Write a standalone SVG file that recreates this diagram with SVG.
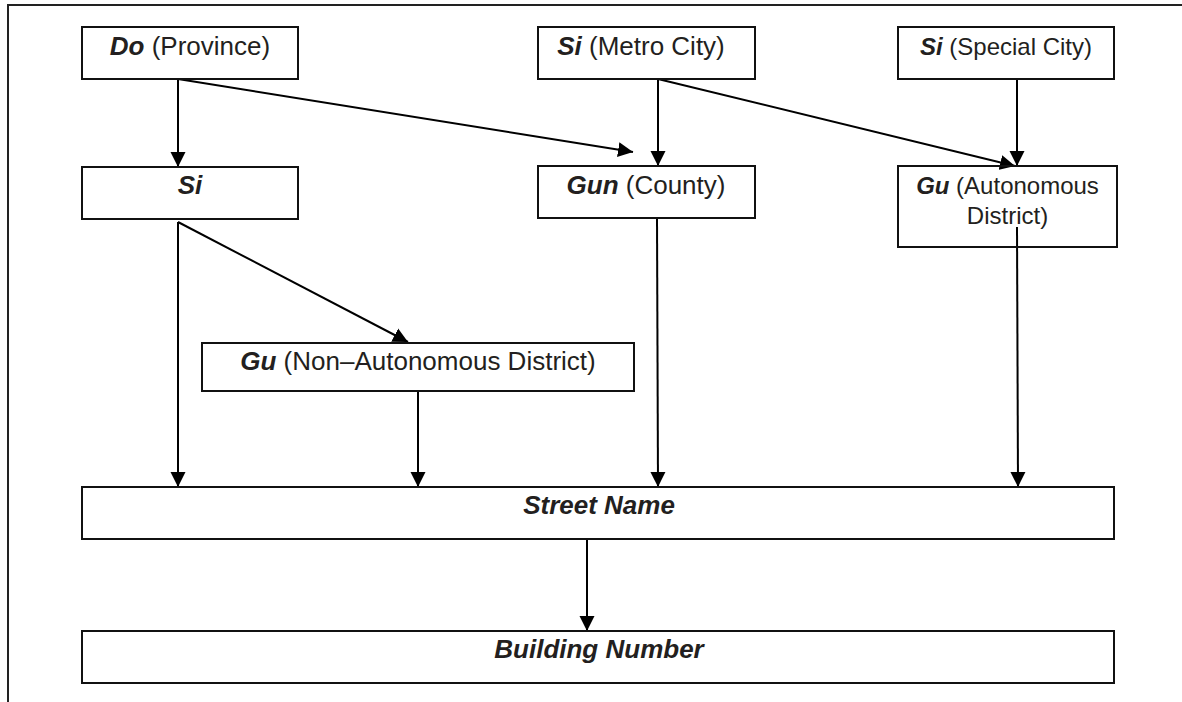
<svg xmlns="http://www.w3.org/2000/svg" width="1182" height="702" viewBox="0 0 1182 702">
  <style>
    .box { fill: #ffffff; stroke: #111111; stroke-width: 2; }
    .t { font-family: "Liberation Sans", Arial, sans-serif; font-size: 26px; fill: #231f20; text-anchor: middle; }
    .s { font-size: 24px; }
    .b { font-weight: bold; font-style: italic; }
    .c { stroke: #000000; stroke-width: 2; fill: none; marker-end: url(#arr); }
    .frame { stroke: #222222; stroke-width: 2; fill: none; }
  </style>
  <defs>
    <marker id="arr" markerUnits="userSpaceOnUse" markerWidth="16" markerHeight="16" refX="15" refY="7.5" orient="auto" viewBox="0 0 16 15">
      <path d="M0,0 L15,7.5 L0,15 z" fill="#000000"/>
    </marker>
  </defs>
  <rect width="1182" height="702" fill="#ffffff"/>
  <path class="frame" d="M8,702 L8,5 L1182,5"/>

  <g id="connectors">
    <line class="c" x1="178" y1="79" x2="178" y2="167"/>
    <line class="c" x1="178" y1="79" x2="633" y2="152"/>
    <line class="c" x1="658" y1="79" x2="658" y2="166"/>
    <line class="c" x1="658" y1="79" x2="1015" y2="166"/>
    <line class="c" x1="1017" y1="79" x2="1017" y2="166"/>
    <line class="c" x1="178" y1="222" x2="408" y2="342"/>
    <line class="c" x1="178" y1="222" x2="178" y2="487"/>
    <line class="c" x1="418" y1="391" x2="418" y2="487"/>
    <line class="c" x1="657" y1="218" x2="658" y2="487"/>
    <line class="c" x1="1017" y1="227" x2="1018" y2="487"/>
    <line class="c" x1="587" y1="539" x2="587" y2="631"/>
  </g>

  <g id="do">
    <rect class="box" x="82" y="27" width="216" height="52"/>
    <text class="t" x="190" y="55"><tspan class="b">Do</tspan> (Province)</text>
  </g>
  <g id="metro">
    <rect class="box" x="538" y="27" width="217" height="52"/>
    <text class="t" x="641" y="55"><tspan class="b">Si</tspan> (Metro City)</text>
  </g>
  <g id="special">
    <rect class="box" x="898" y="27" width="216" height="52"/>
    <text class="t s" x="1006" y="55"><tspan class="b">Si</tspan> (Special City)</text>
  </g>
  <g id="si">
    <rect class="box" x="82" y="167" width="216" height="52"/>
    <text class="t b" x="190" y="194">Si</text>
  </g>
  <g id="gun">
    <rect class="box" x="538" y="166" width="217" height="52"/>
    <text class="t" x="646" y="194"><tspan class="b">Gun</tspan> (County)</text>
  </g>
  <g id="gu-autonomous">
    <rect class="box" x="898" y="166" width="219" height="81" style="fill:none"/>
    <text class="t s" x="1007.5" y="194"><tspan class="b">Gu</tspan> (Autonomous</text>
    <text class="t s" x="1007.5" y="223.5">District)</text>
  </g>
  <g id="gu-non-autonomous">
    <rect class="box" x="202" y="343" width="432" height="48"/>
    <text class="t" x="418" y="370"><tspan class="b">Gu</tspan> (Non–Autonomous District)</text>
  </g>
  <g id="street">
    <rect class="box" x="82" y="487" width="1032" height="52"/>
    <text class="t b" x="599" y="514">Street Name</text>
  </g>
  <g id="building">
    <rect class="box" x="82" y="631" width="1032" height="52"/>
    <text class="t b" x="599" y="658">Building Number</text>
  </g>
</svg>
